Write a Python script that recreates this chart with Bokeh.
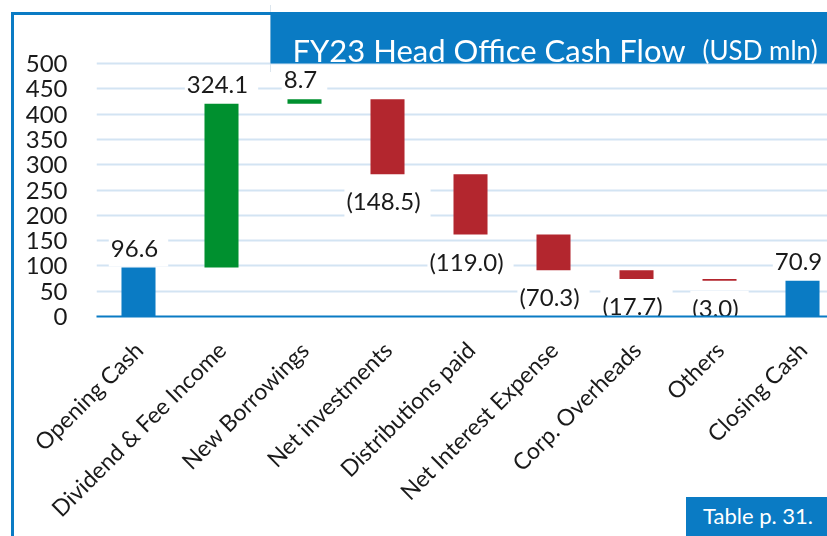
import math
from bokeh.plotting import figure
from bokeh.models import Range1d, FixedTicker, BoxAnnotation, Label, ColumnDataSource, GridBox, Div
from bokeh.core.properties import value
from bokeh.embed import file_html
from bokeh.resources import INLINE

categories = ["Opening Cash", "Dividend & Fee Income", "New Borrowings", "Net investments",
              "Distributions paid", "Net Interest Expense", "Corp. Overheads", "Others", "Closing Cash"]
changes = [96.6, 324.1, 8.7, -148.5, -119.0, -70.3, -17.7, -3.0, 70.9]
kinds = ["total", "up", "up", "down", "down", "down", "down", "down", "total"]
value_labels = ["96.6", "324.1", "8.7", "(148.5)", "(119.0)", "(70.3)", "(17.7)", "(3.0)", "70.9"]
y_ticks = [0, 50, 100, 150, 200, 250, 300, 350, 400, 450, 500]
title_main = "FY23 Head Office Cash Flow"
title_unit = "(USD mln)"
source_note = "Table p. 31."

BLUE = "#0A7BC4"
GREEN = "#00902F"
RED = "#B3262E"
GRID = "#D3E4F3"
FONT = "Lato"
TXT = "#1a1a1a"
color_map = {"total": BLUE, "up": GREEN, "down": RED}

xs, bottoms, tops, colors = [], [], [], []
running = 0.0
for i, (c, k) in enumerate(zip(changes, kinds)):
    if k == "total":
        b, t = 0.0, c
        running = c
    else:
        b, t = running, running + c
        running += c
    xs.append(i)
    bottoms.append(min(b, t))
    tops.append(max(b, t))
    colors.append(color_map[k])

src = ColumnDataSource(dict(x=xs, bottom=bottoms, top=tops, color=colors))

W, H = 827, 536

# ---- background layer: page frame decorations (viewport-fixed positions)
bg_html = f"""<div>
<div style="position:fixed;left:269.5px;top:5px;width:1px;height:67px;background:#DCE6EE;"></div>
<div style="position:fixed;left:11px;top:12px;width:3px;height:{H - 12}px;background:{BLUE};"></div>
<div style="position:fixed;left:11px;top:12px;width:{W - 11}px;height:3px;background:{BLUE};"></div>
<div style="position:fixed;left:686px;top:497px;width:{W - 686}px;height:{H - 497}px;background:{BLUE};"></div>
<div style="position:fixed;left:703px;top:505px;font-family:Lato;font-size:22px;line-height:1;color:white;white-space:nowrap;">{source_note}</div>
</div>"""
bg = Div(text=bg_html, width=W, height=H)

# ---- chart layer
p = figure(width=W, height=H, x_range=Range1d(-0.506, 8.301), y_range=Range1d(0, 600.8),
           output_backend="svg", toolbar_location=None,
           min_border_left=96, min_border_right=0, min_border_top=12, min_border_bottom=220)
p.outline_line_color = None
p.background_fill_color = None
p.border_fill_color = None

p.xgrid.grid_line_color = None
p.ygrid.ticker = FixedTicker(ticks=y_ticks)
p.ygrid.grid_line_color = GRID
p.ygrid.grid_line_width = 2

p.yaxis.ticker = FixedTicker(ticks=y_ticks)
p.yaxis.axis_line_color = None
p.yaxis.major_tick_line_color = None
p.yaxis.minor_tick_line_color = None
p.yaxis.major_label_standoff = 23
p.yaxis.major_label_text_font = FONT
p.yaxis.major_label_text_font_size = "24px"
p.yaxis.major_label_text_color = TXT

p.xaxis.ticker = FixedTicker(ticks=xs)
p.xaxis.major_label_overrides = {i: c for i, c in enumerate(categories)}
p.xaxis.major_label_orientation = math.pi / 4
p.xaxis.axis_line_color = BLUE
p.xaxis.axis_line_width = 2
p.xaxis.major_tick_line_color = None
p.xaxis.minor_tick_line_color = None
p.xaxis.major_label_standoff = 23
p.xaxis.major_label_text_font = FONT
p.xaxis.major_label_text_font_size = "23px"
p.xaxis.major_label_text_color = TXT

p.vbar(x="x", bottom="bottom", top="top", width=0.41, fill_color="color", line_color=None, source=src)

up_idx = [i for i, k in enumerate(kinds) if k != "down"]
dn_idx = [i for i, k in enumerate(kinds) if k == "down"]
p.text(x=[xs[i] for i in up_idx], y=[tops[i] for i in up_idx], text=[value_labels[i] for i in up_idx],
       text_align="center", text_baseline="bottom", y_offset=-1,
       text_font=value(FONT), text_font_size="24px", text_color=TXT,
       background_fill_color="white", padding=(2, 10, 2, 10))
p.text(x=[xs[i] for i in dn_idx], y=[bottoms[i] for i in dn_idx], text=[value_labels[i] for i in dn_idx],
       text_align="center", text_baseline="top", y_offset=10,
       text_font=value(FONT), text_font_size="24px", text_color=TXT,
       background_fill_color="white", padding=(2, 10, 2, 10))

cu = dict(left_units="canvas", right_units="canvas", top_units="canvas", bottom_units="canvas")
p.add_layout(BoxAnnotation(left=270, right=W, top=12, bottom=63, fill_color=BLUE, fill_alpha=1,
                           line_color=None, **cu))
p.add_layout(Label(x=292, y=49, x_units="canvas", y_units="canvas", text=title_main,
                   text_font=FONT, text_font_size="31px", text_color="white", text_baseline="alphabetic"))
p.add_layout(Label(x=702, y=49, x_units="canvas", y_units="canvas", text=title_unit,
                   text_font=FONT, text_font_size="26px", text_color="white", text_baseline="alphabetic"))

layout = GridBox(children=[(bg, 0, 0), (p, 0, 0)])
open("out.html", "w").write(file_html(layout, INLINE))
